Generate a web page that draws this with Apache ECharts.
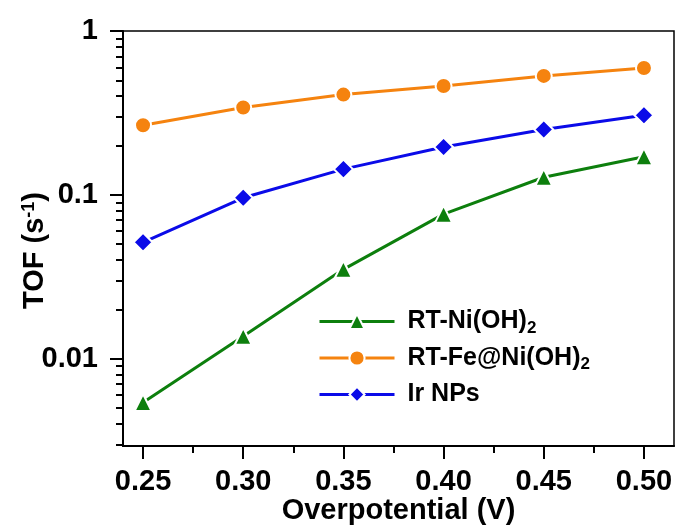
<!DOCTYPE html>
<html>
<head>
<meta charset="utf-8">
<script src="https://cdn.jsdelivr.net/npm/echarts@6/dist/echarts.min.js"></script>
<style>
  html, body { margin: 0; padding: 0; background: #fff; }
  #chart { width: 678px; height: 530px; }
</style>
</head>
<body>
<div id="chart"></div>
<script>
// overpotential (V)
var potentials = [0.25, 0.30, 0.35, 0.40, 0.45, 0.50];
// TOF (s^-1)
var tofNiOH = [0.0054, 0.0137, 0.0351, 0.0762, 0.128, 0.171];
var tofFeNiOH = [0.266, 0.341, 0.409, 0.462, 0.532, 0.595];
var tofIr = [0.0513, 0.0959, 0.1435, 0.196, 0.2505, 0.306];

var xMajor = [0.25, 0.30, 0.35, 0.40, 0.45, 0.50];
var xMinor = [0.275, 0.325, 0.375, 0.425, 0.475];
var yMajor = [0.01, 0.1, 1];
var yMinor = [0.003, 0.004, 0.005, 0.006, 0.007, 0.008, 0.009,
  0.02, 0.03, 0.04, 0.05, 0.06, 0.07, 0.08, 0.09,
  0.2, 0.3, 0.4, 0.5, 0.6, 0.7, 0.8, 0.9];

var FONT = '"Liberation Sans", Arial, sans-serif';

function pairs(ys) {
  return potentials.map(function (x, i) { return [x, ys[i]]; });
}

var chart = echarts.init(document.getElementById('chart'));

function mkSeries(name, ys, color, symbol, size) {
  return {
    name: name,
    type: 'line',
    data: pairs(ys),
    symbol: symbol,
    symbolSize: size,
    lineStyle: { color: color, width: 3 },
    itemStyle: { color: color, borderColor: '#fff', borderWidth: 2 },
    emphasis: { disabled: true },
    z: 3
  };
}

chart.setOption({
  animation: false,
  backgroundColor: '#fff',
  grid: {
    left: 123, right: 4, top: 31, bottom: 84,
    containLabel: false, outerBoundsMode: 'none',
    show: true, borderColor: '#000', borderWidth: 1.5, backgroundColor: 'transparent'
  },
  legend: {
    left: 313, top: 304,
    orient: 'vertical',
    itemWidth: 75, itemHeight: 19, itemGap: 9,
    lineStyle: { width: 3 },
    data: ['RT-Ni(OH)2', 'RT-Fe@Ni(OH)2', 'Ir NPs'],
    formatter: function (n) {
      return n.replace(/\(OH\)2/, '(OH){sub|2}');
    },
    textStyle: {
      fontFamily: FONT, fontWeight: 'bold', fontSize: 25, color: '#000',
      padding: [0, 0, 0, 8],
      rich: { sub: { fontFamily: FONT, fontWeight: 'bold', fontSize: 17, color: '#000', verticalAlign: 'bottom', padding: [13, 0, 0, 0] } }
    }
  },
  xAxis: [{
    type: 'value', min: 0.24, max: 0.515,
    name: 'Overpotential (V)', nameLocation: 'middle', nameGap: 50,
    nameMoveOverlap: false,
    nameTextStyle: { fontFamily: FONT, fontWeight: 'bold', fontSize: 29, color: '#000' },
    axisLine: { lineStyle: { color: '#000', width: 2 } },
    axisTick: { customValues: xMajor, length: 13, lineStyle: { color: '#000', width: 2 } },
    axisLabel: {
      customValues: xMajor, margin: 21,
      fontFamily: FONT, fontWeight: 'bold', fontSize: 29, color: '#000',
      formatter: function (v) { return v.toFixed(2); }
    },
    splitLine: { show: false }
  }, {
    type: 'value', min: 0.24, max: 0.515, position: 'bottom',
    axisLine: { show: false },
    axisTick: { customValues: xMinor, length: 7, lineStyle: { color: '#000', width: 2 } },
    axisLabel: { show: false },
    splitLine: { show: false }
  }],
  yAxis: [{
    type: 'log', min: 0.00293, max: 1,
    name: 'TOF (s{sup|-1})', nameLocation: 'middle', nameGap: 73,
    nameMoveOverlap: false,
    nameTextStyle: {
      fontFamily: FONT, fontWeight: 'bold', fontSize: 29, color: '#000',
      padding: [0, 24, 0, 0],
      rich: { sup: { fontFamily: FONT, fontWeight: 'bold', fontSize: 18, color: '#000', verticalAlign: 'top', padding: [0, 0, 12, 0] } }
    },
    axisLine: { lineStyle: { color: '#000', width: 2 } },
    axisTick: { customValues: yMajor, length: 13, lineStyle: { color: '#000', width: 2 } },
    axisLabel: {
      customValues: yMajor, margin: 25,
      fontFamily: FONT, fontWeight: 'bold', fontSize: 29, color: '#000',
      formatter: function (v) { return String(+v.toPrecision(3)); }
    },
    splitLine: { show: false }
  }, {
    type: 'log', min: 0.00293, max: 1, position: 'left',
    axisLine: { show: false },
    axisTick: { customValues: yMinor, length: 7, lineStyle: { color: '#000', width: 2 } },
    axisLabel: { show: false },
    splitLine: { show: false }
  }],
  series: [
    mkSeries('RT-Ni(OH)2', tofNiOH, '#0d7f0d', 'triangle', 17),
    mkSeries('RT-Fe@Ni(OH)2', tofFeNiOH, '#f5830f', 'circle', 16),
    mkSeries('Ir NPs', tofIr, '#0b0be8', 'diamond', 19)
  ]
});
</script>
</body>
</html>
